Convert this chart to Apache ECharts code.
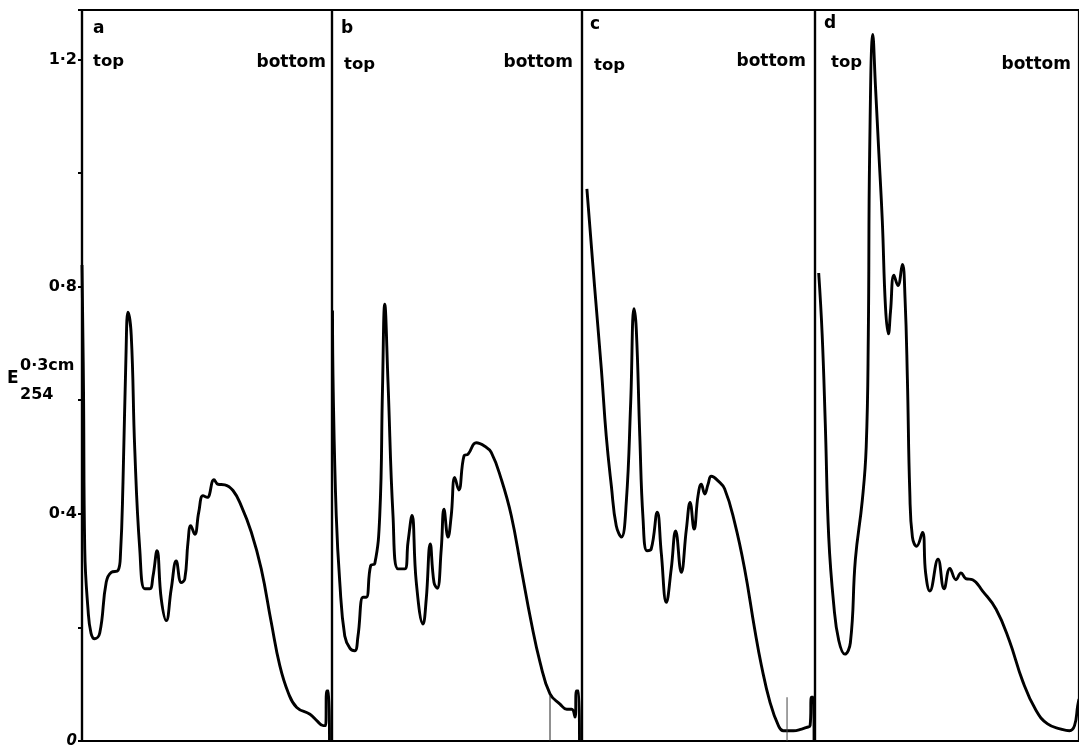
<!DOCTYPE html>
<html>
<head>
<meta charset="utf-8">
<script src="https://cdn.jsdelivr.net/npm/echarts@6/dist/echarts.min.js"></script>
<style>
html,body{margin:0;padding:0;background:#fff;}
#chart{width:1079px;height:749px;}
</style>
</head>
<body>
<div id="chart"></div>
<script>
// ---- data (x = position along the tube, 0 = top .. 100 = bottom; y = E254) ----
const panelLabels = ['a', 'b', 'c', 'd'];
const yTickValues = [0, 0.4, 0.8, 1.2];
const yTickLabels = ['0', '0·4', '0·8', '1·2'];

const traceA = [
  [0, 0.838], [0.6, 0.62], [1.1, 0.338], [2.4, 0.232], [3.6, 0.19], [5.1, 0.18], [7.1, 0.19],
  [9.7, 0.28], [11.7, 0.297], [14.4, 0.30], [15.4, 0.33], [16.4, 0.456], [17.6, 0.68],
  [18.4, 0.755], [19.7, 0.714], [21.1, 0.514], [23.1, 0.338], [25.1, 0.268], [27.1, 0.268],
  [28.4, 0.29], [30, 0.335], [31.7, 0.25], [33.7, 0.212], [35.7, 0.268], [37.7, 0.317],
  [39.7, 0.279], [41.1, 0.285], [42.4, 0.35], [43.5, 0.379], [45.1, 0.364], [46.7, 0.403],
  [48.4, 0.432], [50.1, 0.429], [52.8, 0.46], [54.4, 0.452], [57.1, 0.451], [60.4, 0.441],
  [63.7, 0.414], [67.7, 0.368], [71.7, 0.303], [75.7, 0.209], [79.1, 0.133], [82.5, 0.085],
  [85.9, 0.059], [91.2, 0.047], [93.9, 0.036], [96.5, 0.027], [97.4, 0.027], [97.9, 0.088],
  [98.6, 0.088], [99.0, 0.0]
];

const traceB = [
  [0.2, 0.758], [0.5, 0.614], [1.7, 0.397], [3.1, 0.28], [5.1, 0.185], [7.2, 0.163], [9.1, 0.159],
  [10.4, 0.185], [12.4, 0.253], [13.7, 0.253], [15.5, 0.309], [17.1, 0.312], [19.1, 0.397],
  [20.2, 0.62], [21.1, 0.769], [22.4, 0.632], [24.4, 0.397], [26.4, 0.303], [29.1, 0.303],
  [30.4, 0.35], [32, 0.397], [33.7, 0.28], [36.4, 0.206], [37.7, 0.25], [39.3, 0.347],
  [40.8, 0.279], [42.1, 0.269], [43.7, 0.338], [44.8, 0.408], [46.4, 0.359], [47.7, 0.397],
  [49.1, 0.464], [50.7, 0.442], [52.8, 0.502], [54.4, 0.505], [57.7, 0.525], [61.1, 0.519],
  [63.7, 0.508], [67.7, 0.461], [71.7, 0.397], [75.7, 0.303], [79.7, 0.209], [83.2, 0.139],
  [87.2, 0.083], [91.2, 0.065], [93.9, 0.056], [95.9, 0.056], [97.2, 0.042], [97.8, 0.088],
  [98.6, 0.088], [99.0, 0.0]
];

const traceC = [
  [2.1, 0.972], [5.4, 0.80], [8.3, 0.655], [10.4, 0.537], [12.6, 0.449], [14.7, 0.379],
  [16.9, 0.359], [19, 0.42], [20.9, 0.596], [22.3, 0.761], [23.3, 0.725], [24.8, 0.537],
  [26.2, 0.391], [27.9, 0.335], [29.7, 0.338], [32.3, 0.403], [34, 0.332], [36.2, 0.244],
  [38.3, 0.303], [40.2, 0.37], [42.6, 0.297], [44.8, 0.373], [46.4, 0.42], [48.1, 0.373],
  [49.8, 0.432], [51.2, 0.452], [52.7, 0.435], [54.1, 0.452], [55.5, 0.466], [58.4, 0.458],
  [61.2, 0.444], [65.5, 0.385], [69.8, 0.303], [74.1, 0.197], [77, 0.133], [80.7, 0.068],
  [84.3, 0.027], [86.4, 0.018], [90.7, 0.018], [94.3, 0.021], [96.4, 0.024], [97.9, 0.027],
  [98.5, 0.077], [99.3, 0.077], [99.6, 0.0]
];

const traceD = [
  [1.4, 0.824], [2.7, 0.717], [3.9, 0.558], [5.2, 0.359], [7.1, 0.24], [9, 0.177], [11.3, 0.153],
  [13.4, 0.173], [15.3, 0.32], [17.9, 0.423], [19.4, 0.518], [20.2, 0.717], [20.7, 1.034],
  [21.9, 1.244], [22.9, 1.153], [24.2, 1.034], [25.5, 0.915], [26.7, 0.764], [27.8, 0.717],
  [28.6, 0.756], [29.9, 0.82], [31.4, 0.802], [33.1, 0.839], [34.1, 0.78], [35, 0.637],
  [35.9, 0.439], [36.9, 0.359], [38.5, 0.343], [40.7, 0.367], [41.9, 0.296], [43.5, 0.264],
  [46.6, 0.32], [48.9, 0.268], [51.1, 0.304], [53.4, 0.284], [55.3, 0.296], [57.1, 0.286],
  [59.7, 0.284], [63.5, 0.264], [68.6, 0.232], [73.6, 0.177], [78.7, 0.105], [83.7, 0.054],
  [88.1, 0.03], [93.2, 0.021], [96.4, 0.018], [98.3, 0.027], [99.5, 0.062], [100, 0.074]
];

// thin fraction markers drawn at the foot of panels b and c
const fractionMarkB = [[87.2, 0], [87.2, 0.08]];
const fractionMarkC = [[88.0, 0], [88.0, 0.077]];

// ---- chart ----
const traces = [traceA, traceB, traceC, traceD];
const gridBoxes = [
  { left: 82, width: 250 },
  { left: 332, width: 250 },
  { left: 582, width: 233 },
  { left: 815, width: 264 }
];
const Y_MAX = 1.287;
const FONT = '"DejaVu Sans", "Liberation Sans", sans-serif';

const grids = gridBoxes.map(g => ({
  left: g.left, width: g.width, top: 10, height: 731,
  show: true, borderColor: '#000', borderWidth: 2.2, backgroundColor: 'transparent'
}));

const xAxes = gridBoxes.map((g, i) => ({
  type: 'value', gridIndex: i, min: 0, max: 100, show: false
}));

const yAxes = gridBoxes.map((g, i) => ({
  type: 'value', gridIndex: i, min: 0, max: Y_MAX, interval: 0.2,
  show: i === 0,
  splitLine: { show: false },
  axisLine: { show: i === 0, lineStyle: { color: '#000', width: 2.2 } },
  axisTick: { show: i === 0, length: 4, lineStyle: { color: '#000', width: 2 } },
  axisLabel: {
    show: i === 0,
    margin: 5,
    color: '#000',
    fontFamily: FONT,
    fontWeight: 'bold',
    fontSize: 16,
    formatter: function (v) {
      for (let k = 0; k < yTickValues.length; k++) {
        if (Math.abs(v - yTickValues[k]) < 1e-6) {
          return k === 0 ? '{z|' + yTickLabels[k] + '}' : yTickLabels[k];
        }
      }
      return '';
    },
    rich: { z: { fontStyle: 'italic', fontWeight: 'bold', fontSize: 15, fontFamily: FONT, color: '#000' } }
  }
}));

const series = traces.map((t, i) => ({
  type: 'line', xAxisIndex: i, yAxisIndex: i, data: t,
  smooth: 0.45, showSymbol: false, symbol: 'none',
  lineStyle: { color: '#000', width: 2.9 }, silent: true
}));
series.push({
  type: 'line', xAxisIndex: 1, yAxisIndex: 1, data: fractionMarkB, symbol: 'none',
  lineStyle: { color: '#222', width: 1 }, silent: true
});
series.push({
  type: 'line', xAxisIndex: 2, yAxisIndex: 2, data: fractionMarkC, symbol: 'none',
  lineStyle: { color: '#444', width: 1 }, silent: true
});

function txt(text, x, y, size, align, extra) {
  return Object.assign({
    type: 'text', x: x, y: y, silent: true,
    style: {
      text: text, fill: '#000', align: align || 'left', verticalAlign: 'middle',
      font: 'bold ' + size + 'px ' + FONT
    }
  }, extra || {});
}

const labelPos = [
  { letter: [93, 29], top: [93, 62], bottom: [326, 63] },
  { letter: [341, 29], top: [344, 65], bottom: [573, 63] },
  { letter: [590, 25], top: [594, 66], bottom: [806, 62] },
  { letter: [824, 24], top: [831, 63], bottom: [1071, 65] }
];

const graphics = [];
panelLabels.forEach((lab, i) => {
  const p = labelPos[i];
  graphics.push(txt(lab, p.letter[0], p.letter[1], 17, 'left'));
  graphics.push(txt('top', p.top[0], p.top[1], 16.5, 'left'));
  graphics.push(txt('bottom', p.bottom[0], p.bottom[1], 17, 'right'));
});
graphics.push(txt('E', 7, 379, 17, 'left'));
graphics.push(txt('0·3cm', 20, 366, 16, 'left'));
graphics.push(txt('254', 20, 395, 16, 'left'));

const chart = echarts.init(document.getElementById('chart'), null, { renderer: 'canvas' });
chart.setOption({
  animation: false,
  backgroundColor: '#fff',
  grid: grids,
  xAxis: xAxes,
  yAxis: yAxes,
  series: series,
  graphic: graphics
});
</script>
</body>
</html>
